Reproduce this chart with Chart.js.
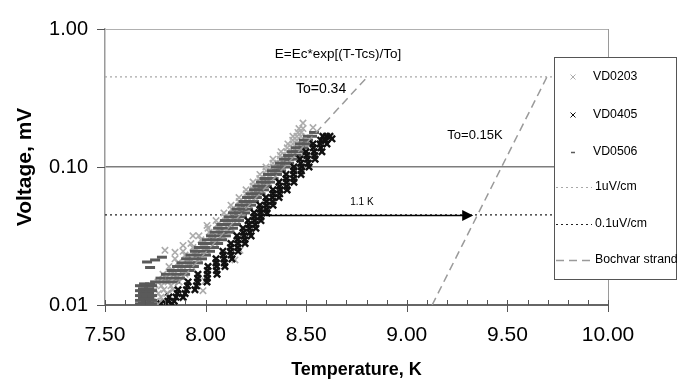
<!DOCTYPE html>
<html>
<head>
<meta charset="utf-8">
<script src="https://cdn.jsdelivr.net/npm/chart.js@4/dist/chart.umd.min.js"></script>
<style>
  html, body { margin: 0; padding: 0; background: #fff; }
  #wrap { width: 680px; height: 382px; position: relative; }
</style>
</head>
<body>
<div id="wrap"><canvas id="c" width="680" height="382"></canvas></div>
<script>
// Temperature (K), voltage (mV) pairs for each strand sample
const vd0203 = [
  [7.729,0.0102],[7.763,0.0102],[7.798,0.0102],
  [7.752,0.01066],[7.789,0.01066],
  [7.739,0.0114],[7.778,0.0114],[7.818,0.0114],
  [7.765,0.01212],[7.807,0.01212],
  [7.749,0.0129],[7.793,0.0129],[7.838,0.0129],
  [7.780,0.01377],[7.828,0.01377],
  [7.763,0.0147],[7.813,0.0147],[7.868,0.0147],
  [7.802,0.01565],[7.856,0.01565],
  [7.788,0.0167],[7.843,0.0167],[7.898,0.0167],
  [7.830,0.01778],[7.887,0.01778],
  [7.818,0.0190],[7.873,0.0190],[7.932,0.0190],
  [7.862,0.0202],[7.920,0.0202],
  [7.848,0.0216],[7.908,0.0216],[7.967,0.0216],
  [7.898,0.0230],[7.957,0.0230],
  [7.888,0.0245],[7.947,0.0245],[8.007,0.0245],
  [7.937,0.0261],[7.997,0.0261],
  [7.927,0.0279],[7.987,0.0279],[8.047,0.0279],
  [7.977,0.0297],[8.037,0.0297],
  [7.967,0.0317],[8.027,0.0317],[8.086,0.0317],
  [8.018,0.0337],[8.076,0.0337],
  [8.012,0.0360],[8.067,0.0360],[8.126,0.0360],
  [8.058,0.0383],[8.112,0.0383],
  [8.052,0.0409],[8.101,0.0409],[8.156,0.0409],
  [8.095,0.0435],[8.145,0.0435],
  [8.091,0.0465],[8.136,0.0465],[8.186,0.0465],
  [8.131,0.0495],[8.177,0.0495],
  [8.126,0.0529],[8.171,0.0529],[8.216,0.0529],
  [8.167,0.0562],[8.210,0.0562],
  [8.166,0.0601],[8.206,0.0601],[8.246,0.0601],
  [8.202,0.0639],[8.241,0.0639],
  [8.201,0.0683],[8.236,0.0683],[8.275,0.0683],
  [8.236,0.0726],[8.272,0.0726],
  [8.236,0.0777],[8.270,0.0777],[8.305,0.0777],
  [8.269,0.0825],[8.303,0.0825],
  [8.270,0.0883],[8.300,0.0883],[8.335,0.0883],
  [8.301,0.0938],[8.335,0.0938],
  [8.300,0.100],[8.335,0.100],[8.370,0.100],
  [8.335,0.1066],[8.370,0.1066],
  [8.335,0.114],[8.370,0.114],[8.405,0.114],
  [8.371,0.1212],[8.404,0.1212],
  [8.375,0.129],[8.405,0.129],[8.434,0.129],
  [8.406,0.1377],[8.432,0.1377],
  [8.409,0.147],[8.434,0.147],[8.454,0.147],
  [8.433,0.1565],[8.454,0.1565],
  [8.434,0.167],[8.454,0.167],[8.474,0.167],
  [8.459,0.178],[8.476,0.178],
  [8.464,0.190],[8.484,0.190],
  [8.484,0.208],
  [7.798,0.0249],[7.848,0.0241],[7.888,0.0270],[7.937,0.0317],[8.007,0.0377],
  [8.171,0.0249],[8.146,0.0212],[7.997,0.0149],[7.987,0.0127],[7.888,0.0112],
  [8.534,0.193]
];

const vd0405 = [
  [7.778,0.0102],[7.803,0.0102],[7.833,0.0102],
  [7.813,0.01066],[7.844,0.01066],
  [7.818,0.0114],[7.853,0.0114],[7.888,0.0114],
  [7.860,0.01212],[7.898,0.01212],
  [7.863,0.0129],[7.905,0.0129],[7.947,0.0129],
  [7.910,0.01377],[7.955,0.01377],
  [7.913,0.0147],[7.960,0.0147],[8.007,0.0147],
  [7.961,0.01565],[8.008,0.01565],
  [7.962,0.0167],[8.009,0.0167],[8.057,0.0167],
  [8.009,0.01778],[8.054,0.01778],
  [8.012,0.0190],[8.054,0.0190],[8.096,0.0190],
  [8.052,0.0202],[8.093,0.0202],
  [8.052,0.0216],[8.091,0.0216],[8.131,0.0216],
  [8.088,0.0230],[8.127,0.0230],
  [8.086,0.0245],[8.124,0.0245],[8.161,0.0245],
  [8.124,0.0261],[8.160,0.0261],
  [8.126,0.0279],[8.161,0.0279],[8.196,0.0279],
  [8.159,0.0297],[8.194,0.0297],
  [8.156,0.0317],[8.191,0.0317],[8.226,0.0317],
  [8.188,0.0337],[8.221,0.0337],
  [8.186,0.0360],[8.218,0.0360],[8.250,0.0360],
  [8.215,0.0383],[8.247,0.0383],
  [8.211,0.0409],[8.243,0.0409],[8.275,0.0409],
  [8.242,0.0435],[8.274,0.0435],
  [8.241,0.0465],[8.273,0.0465],[8.305,0.0465],
  [8.272,0.0495],[8.304,0.0495],
  [8.270,0.0529],[8.303,0.0529],[8.335,0.0529],
  [8.302,0.0562],[8.334,0.0562],
  [8.300,0.0601],[8.333,0.0601],[8.365,0.0601],
  [8.335,0.0639],[8.368,0.0639],
  [8.335,0.0683],[8.370,0.0683],[8.405,0.0683],
  [8.368,0.0726],[8.404,0.0726],
  [8.365,0.0777],[8.402,0.0777],[8.439,0.0777],
  [8.401,0.0825],[8.438,0.0825],
  [8.400,0.0883],[8.437,0.0883],[8.474,0.0883],
  [8.438,0.0938],[8.476,0.0938],
  [8.439,0.100],[8.477,0.100],[8.514,0.100],
  [8.473,0.1066],[8.510,0.1066],
  [8.469,0.114],[8.506,0.114],[8.544,0.114],
  [8.503,0.1212],[8.542,0.1212],
  [8.499,0.129],[8.539,0.129],[8.578,0.129],
  [8.535,0.1377],[8.572,0.1377],
  [8.534,0.147],[8.569,0.147],[8.603,0.147],
  [8.572,0.1565],[8.598,0.1565],
  [8.583,0.167],[8.601,0.167],[8.618,0.167],
  [8.593,0.157],[8.628,0.160]
];

const vd0506 = [
  [7.674,0.0102],[7.704,0.0102],[7.734,0.0102],
  [7.689,0.01032],[7.719,0.01032],
  [7.674,0.0108],[7.704,0.0108],[7.734,0.0108],
  [7.689,0.01118],[7.719,0.01118],
  [7.674,0.0117],[7.704,0.0117],[7.734,0.0117],
  [7.689,0.01212],[7.719,0.01212],
  [7.674,0.0127],[7.704,0.0127],[7.734,0.0127],
  [7.689,0.01312],[7.719,0.01312],
  [7.674,0.0138],[7.704,0.0138],[7.734,0.0138],
  [7.694,0.01422],[7.724,0.01422],
  [7.749,0.0147],[7.798,0.0147],[7.848,0.0147],
  [7.776,0.01565],[7.826,0.01565],[7.873,0.01565],
  [7.803,0.0167],[7.853,0.0167],[7.898,0.0167],
  [7.831,0.01778],[7.878,0.01778],[7.920,0.01778],
  [7.858,0.0190],[7.903,0.0190],[7.942,0.0190],
  [7.881,0.0202],[7.923,0.0202],[7.962,0.0202],
  [7.903,0.0216],[7.942,0.0216],[7.982,0.0216],
  [7.925,0.0230],[7.965,0.0230],[8.002,0.0230],
  [7.947,0.0245],[7.987,0.0245],[8.022,0.0245],
  [7.967,0.0261],[8.007,0.0261],[8.042,0.0261],
  [7.987,0.0279],[8.027,0.0279],[8.062,0.0279],
  [8.007,0.0297],[8.047,0.0297],[8.082,0.0297],
  [8.027,0.0317],[8.067,0.0317],[8.101,0.0317],
  [8.045,0.0337],[8.084,0.0337],[8.119,0.0337],
  [8.062,0.0360],[8.101,0.0360],[8.136,0.0360],
  [8.079,0.0383],[8.116,0.0383],[8.151,0.0383],
  [8.096,0.0409],[8.131,0.0409],[8.166,0.0409],
  [8.116,0.0435],[8.149,0.0435],[8.181,0.0435],
  [8.136,0.0465],[8.166,0.0465],[8.196,0.0465],
  [8.154,0.0495],[8.184,0.0495],[8.211,0.0495],
  [8.171,0.0529],[8.201,0.0529],[8.226,0.0529],
  [8.189,0.0562],[8.216,0.0562],[8.241,0.0562],
  [8.206,0.0601],[8.231,0.0601],[8.255,0.0601],
  [8.224,0.0639],[8.248,0.0639],[8.273,0.0639],
  [8.241,0.0683],[8.265,0.0683],[8.290,0.0683],
  [8.258,0.0726],[8.283,0.0726],[8.305,0.0726],
  [8.275,0.0777],[8.300,0.0777],[8.320,0.0777],
  [8.293,0.0825],[8.318,0.0825],[8.338,0.0825],
  [8.310,0.0883],[8.335,0.0883],[8.355,0.0883],
  [8.330,0.0938],[8.355,0.0938],[8.375,0.0938],
  [8.350,0.100],[8.375,0.100],[8.395,0.100],
  [8.370,0.1066],[8.395,0.1066],[8.415,0.1066],
  [8.390,0.114],[8.414,0.114],[8.434,0.114],
  [8.410,0.1212],[8.432,0.1212],[8.452,0.1212],
  [8.429,0.129],[8.449,0.129],[8.469,0.129],
  [8.449,0.1377],[8.469,0.1377],[8.487,0.1377],
  [8.469,0.147],[8.489,0.147],[8.504,0.147],
  [8.489,0.1565],[8.509,0.1565],
  [8.509,0.167],[8.529,0.167],
  [8.539,0.178],
  [7.709,0.0205],[7.749,0.0212],[7.724,0.0187],[7.783,0.0222]
];

// Electric field criteria expressed as voltage across the tap length (mV)
const criterion1uV = 0.45;
const criterion01uV = 0.045;
const criterionSpan = [7.5, 10.0];

// Exponential fits, E = Ec*exp[(T-Tcs)/To], straight on a log axis
const bochvarStrand = [[7.76,0.01],[8.81,0.46],[null,null],[9.126,0.01],[9.70,0.46]];

// Temperature margin between the two curves at 0.1 uV/cm
const marginArrow = [[8.30,0.045],[9.33,0.045]];

const xTicks = [7.5, 8.0, 8.5, 9.0, 9.5, 10.0];
const yTicks = [0.01, 0.1, 1];

const FONT = '"Liberation Sans", Arial, Helvetica, sans-serif';
const pts = arr => arr.map(([x, y]) => ({ x, y }));

const datasets = [
  { label: 'VD0203', data: pts(vd0203), showLine: false, pointStyle: 'crossRot',
    pointRadius: 4.5, pointBorderColor: '#acacac', pointBorderWidth: 1.6, order: 3, legendMark: 'cross' },
  { label: 'VD0405', data: pts(vd0405), showLine: false, pointStyle: 'crossRot',
    pointRadius: 4.5, pointBorderColor: '#111111', pointBorderWidth: 2.4, order: 1, legendMark: 'cross' },
  { label: 'VD0506', data: pts(vd0506), showLine: false, pointStyle: 'line',
    pointRadius: 5, pointBorderColor: '#5a5a5a', pointBorderWidth: 3, order: 2, legendMark: 'dash' },
  { label: '1uV/cm', data: criterionSpan.map(x => ({ x, y: criterion1uV })), showLine: true,
    borderColor: '#a8a8a8', borderWidth: 1.2, borderDash: [2, 3], pointRadius: 0, order: 5, legendMark: 'line' },
  { label: '0.1uV/cm', data: criterionSpan.map(x => ({ x, y: criterion01uV })), showLine: true,
    borderColor: '#222222', borderWidth: 1.2, borderDash: [2, 3], pointRadius: 0, order: 4, legendMark: 'line' },
  { label: 'Bochvar strand', data: pts(bochvarStrand), showLine: true, spanGaps: false,
    borderColor: '#9a9a9a', borderWidth: 1.5, borderDash: [8, 5], pointRadius: 0, order: 0, legendMark: 'line' }
];

const extrasPlugin = {
  id: 'figureExtras',
  afterDatasetsDraw(chart) {
    const { ctx, scales: { x, y } } = chart;
    ctx.save();
    // margin arrow
    const x0 = x.getPixelForValue(marginArrow[0][0]);
    const x1 = x.getPixelForValue(marginArrow[1][0]);
    const yy = Math.round(y.getPixelForValue(marginArrow[0][1])) + 0.5;
    ctx.strokeStyle = '#000';
    ctx.lineWidth = 1.5;
    ctx.beginPath(); ctx.moveTo(x0, yy); ctx.lineTo(x1 - 9, yy); ctx.stroke();
    ctx.fillStyle = '#000';
    ctx.beginPath(); ctx.moveTo(x1, yy); ctx.lineTo(x1 - 11, yy - 5.5); ctx.lineTo(x1 - 11, yy + 5.5); ctx.closePath(); ctx.fill();

    ctx.textAlign = 'center';
    ctx.textBaseline = 'middle';
    ctx.fillStyle = '#000';
    const put = (txt, t, v, size) => {
      ctx.font = size + 'px ' + FONT;
      ctx.fillText(txt, x.getPixelForValue(t), y.getPixelForValue(v));
    };
    put('E=Ec*exp[(T-Tcs)/To]', 8.658, 0.66, 13.5);
    put('To=0.34', 8.574, 0.365, 14);
    put('To=0.15K', 9.339, 0.169, 13);
    put('1.1 K', 8.777, 0.056, 10);
    ctx.restore();
  },
  afterDraw(chart) {
    const { ctx, chartArea: a, scales: { x, y } } = chart;
    ctx.save();
    // x tick marks: majors cross the axis, minors point inward
    ctx.strokeStyle = '#555';
    ctx.lineWidth = 1;
    for (let i = 0; i <= 25; i++) {
      const t = 7.5 + i * 0.1;
      const px = Math.round(x.getPixelForValue(t)) + 0.5;
      const major = i % 5 === 0;
      ctx.beginPath();
      ctx.moveTo(px, a.bottom - 5);
      ctx.lineTo(px, a.bottom + (major ? 7 : 0));
      ctx.stroke();
    }
    // y tick marks
    yTicks.forEach(v => {
      const py = Math.round(y.getPixelForValue(v)) + 0.5;
      ctx.beginPath(); ctx.moveTo(a.left - 8, py); ctx.lineTo(a.left, py); ctx.stroke();
    });

    // legend box
    const L = { x: 554.5, y: 57.5, w: 122, h: 222 };
    ctx.fillStyle = '#fff';
    ctx.fillRect(L.x, L.y, L.w, L.h);
    ctx.strokeStyle = '#555';
    ctx.lineWidth = 1;
    ctx.strokeRect(L.x, L.y, L.w, L.h);
    const rowY = [77, 115, 152, 187, 224, 260];
    ctx.font = '12.3px ' + FONT;
    ctx.textAlign = 'left';
    ctx.textBaseline = 'middle';
    chart.data.datasets.forEach((ds, i) => {
      const ry = rowY[i];
      ctx.save();
      if (ds.legendMark === 'cross') {
        ctx.strokeStyle = ds.pointBorderColor;
        ctx.lineWidth = 1;
        const r = 2.5, cx = 573;
        ctx.beginPath();
        ctx.moveTo(cx - r, ry - r); ctx.lineTo(cx + r, ry + r);
        ctx.moveTo(cx + r, ry - r); ctx.lineTo(cx - r, ry + r);
        ctx.stroke();
      } else if (ds.legendMark === 'dash') {
        ctx.strokeStyle = ds.pointBorderColor;
        ctx.lineWidth = 1.5;
        ctx.beginPath(); ctx.moveTo(571, ry + 0.5); ctx.lineTo(575, ry + 0.5); ctx.stroke();
      } else {
        ctx.strokeStyle = ds.borderColor;
        ctx.lineWidth = ds.borderWidth;
        ctx.setLineDash(ds.borderDash);
        ctx.beginPath(); ctx.moveTo(556, ry + 0.5); ctx.lineTo(592, ry + 0.5); ctx.stroke();
      }
      ctx.restore();
      ctx.fillStyle = '#000';
      ctx.fillText(ds.label, ds.legendMark === 'line' ? 595 : 593, ry);
    });
    ctx.restore();
  }
};

new Chart(document.getElementById('c'), {
  type: 'scatter',
  data: { datasets },
  options: {
    responsive: false,
    animation: false,
    devicePixelRatio: 1,
    layout: { padding: { top: 17, right: 72, left: 0, bottom: 0 } },
    plugins: { legend: { display: false }, tooltip: { enabled: false } },
    scales: {
      x: {
        type: 'linear', min: 7.5, max: 10,
        afterBuildTicks: s => { s.ticks = xTicks.map(v => ({ value: v })); },
        afterFit: s => { s.height = 77; },
        ticks: { callback: v => Number(v).toFixed(2), color: '#000', padding: 18,
                 font: { family: FONT, size: 21 }, maxRotation: 0, autoSkip: false },
        grid: { drawTicks: false, drawOnChartArea: true,
                color: c => (c.tick && c.tick.value === 10) ? '#9a9a9a' : 'rgba(0,0,0,0)', lineWidth: 1 },
        border: { display: true, color: '#666', width: 2 },
        title: { display: true, text: 'Temperature, K', color: '#000',
                 font: { family: FONT, size: 18, weight: 'bold' }, padding: { top: 0, bottom: 1 } }
      },
      y: {
        type: 'logarithmic', min: 0.01, max: 1,
        afterBuildTicks: s => { s.ticks = yTicks.map(v => ({ value: v })); },
        afterFit: s => { s.width = 105; },
        ticks: { callback: v => Number(v).toFixed(2), color: '#000', padding: 17,
                 font: { family: FONT, size: 20 }, autoSkip: false },
        grid: { drawTicks: false,
                color: c => {
                  if (!c.tick) return 'rgba(0,0,0,0)';
                  if (Math.abs(c.tick.value - 0.1) < 1e-9) return '#7d7d7d';
                  if (Math.abs(c.tick.value - 1) < 1e-9) return '#b0b0b0';
                  return 'rgba(0,0,0,0)';
                },
                lineWidth: c => (c.tick && Math.abs(c.tick.value - 0.1) < 1e-9) ? 1.6 : 1 },
        border: { display: true, color: '#9a9a9a', width: 1.5 },
        title: { display: true, text: 'Voltage, mV', color: '#000',
                 font: { family: FONT, size: 21, weight: 'bold' }, padding: { top: 13, bottom: 0 } }
      }
    }
  },
  plugins: [extrasPlugin]
});
</script>
</body>
</html>
